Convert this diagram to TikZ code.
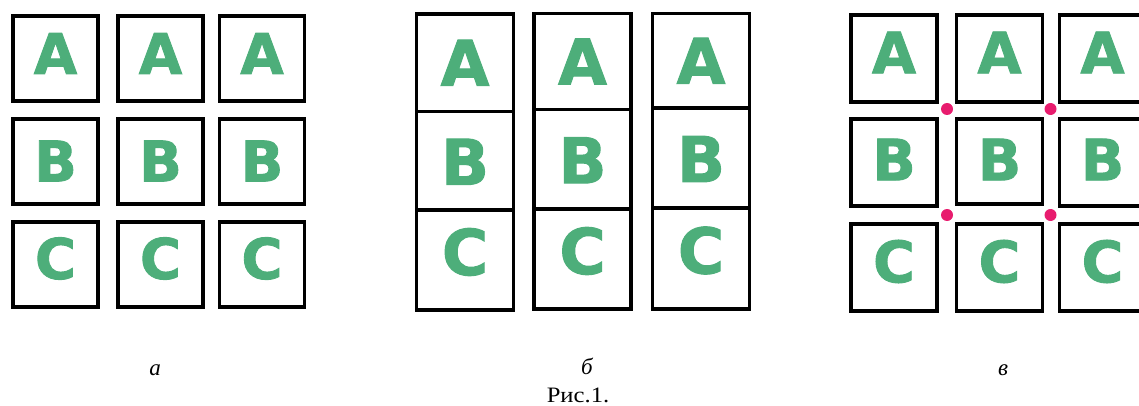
\documentclass[tikz,border=0pt]{standalone}
\usepackage{fontspec}
\setmainfont{Liberation Serif}
\newfontfamily\letterfont{DejaVu Sans}[BoldFeatures={FakeBold=1.6}]
\definecolor{lettergreen}{RGB}{77,174,122}
\definecolor{dotpink}{RGB}{232,28,110}
\tikzset{
  cellbase/.style={draw=black, line width=3.4pt, inner sep=0pt},
  acell/.style={cellbase, minimum width=85pt, minimum height=85pt},
  bcell/.style={cellbase, minimum width=97pt},
  ccell/.style={cellbase, minimum width=86pt, minimum height=87pt},
  alet/.style={text=lettergreen, inner sep=0pt, font=\letterfont\bfseries\fontsize{56}{56}\selectfont},
  blet/.style={text=lettergreen, inner sep=0pt, font=\letterfont\bfseries\fontsize{63}{63}\selectfont},
  clet/.style={text=lettergreen, inner sep=0pt, font=\letterfont\bfseries\fontsize{57}{57}\selectfont},
  joint/.style={circle, fill=dotpink, inner sep=0pt, minimum size=12pt},
  sublabel/.style={anchor=base, inner sep=0pt, font=\itshape\fontsize{23}{23}\selectfont},
  caption/.style={anchor=base, inner sep=0pt, font=\fontsize{22}{22}\selectfont, xscale=1.12},
}
% name, x, y, cell style, letter style, letter, vertical shift
\newcommand\gridcell[7]{%
  \node[#4] (#1) at (#2,#3) {};
  \node[#5] (#1t) at ([yshift=#7pt]#1.center) {#6};}
\begin{document}
\begin{tikzpicture}[x=1pt,y=-1pt]
\useasboundingbox (0,0) rectangle (1139,406);
\begin{scope}
\clip (0,0) rectangle (1139,406);
% panel a
\gridcell{a11}{55.5}{58.5}{acell}{alet}{A}{5}
\gridcell{a12}{160.5}{58.5}{acell}{alet}{A}{5}
\gridcell{a13}{262}{58.5}{acell}{alet}{A}{5}
\gridcell{a21}{55.5}{161.5}{acell}{alet}{B}{0.5}
\gridcell{a22}{160.5}{161.5}{acell}{alet}{B}{0.5}
\gridcell{a23}{262}{161.5}{acell}{alet}{B}{0.5}
\gridcell{a31}{55.5}{264.5}{acell}{alet}{C}{6}
\gridcell{a32}{160.5}{264.5}{acell}{alet}{C}{6}
\gridcell{a33}{262}{264.5}{acell}{alet}{C}{6}
% panel b
\gridcell{b11}{465}{62.75}{bcell, minimum height=97.5pt}{blet}{A}{0}
\gridcell{b12}{582.5}{61.5}{bcell, minimum height=96pt}{blet}{A}{0}
\gridcell{b13}{701}{60.75}{bcell, minimum height=94.5pt}{blet}{A}{0}
\gridcell{b21}{465}{160.75}{bcell, minimum height=98.5pt}{blet}{B}{-1}
\gridcell{b22}{582.5}{159.25}{bcell, minimum height=99.5pt}{blet}{B}{-1}
\gridcell{b23}{701}{158}{bcell, minimum height=100pt}{blet}{B}{-1}
\gridcell{b31}{465}{260}{bcell, minimum height=100pt}{blet}{C}{8}
\gridcell{b32}{582.5}{259}{bcell, minimum height=100pt}{blet}{C}{8}
\gridcell{b33}{701}{258.5}{bcell, minimum height=101pt}{blet}{C}{8}
% panel c
\gridcell{c11}{894}{58.5}{ccell}{clet}{A}{6}
\gridcell{c12}{999.5}{58.5}{ccell}{clet}{A}{6}
\gridcell{c13}{1102.5}{58.5}{ccell}{clet}{A}{6}
\gridcell{c21}{894}{162.5}{ccell}{clet}{B}{3}
\gridcell{c22}{999.5}{161.5}{ccell, minimum height=85pt}{clet}{B}{2}
\gridcell{c23}{1102.5}{162.5}{ccell}{clet}{B}{3}
\gridcell{c31}{894}{267.5}{ccell}{clet}{C}{6}
\gridcell{c32}{999.5}{267.5}{ccell}{clet}{C}{6}
\gridcell{c33}{1102.5}{267.5}{ccell}{clet}{C}{6}
\end{scope}
\node[joint] (j1) at (947,109) {};
\node[joint] (j2) at (1050.5,109) {};
\node[joint] (j3) at (947,215) {};
\node[joint] (j4) at (1050.5,215) {};
% labels
\node[sublabel] (la) at (155,375) {а};
\node[sublabel] (lb) at (587,374) {б};
\node[sublabel] (lc) at (1003,375) {в};
\node[caption] (cap) at (578,402) {Рис.1.};
\end{tikzpicture}
\end{document}
